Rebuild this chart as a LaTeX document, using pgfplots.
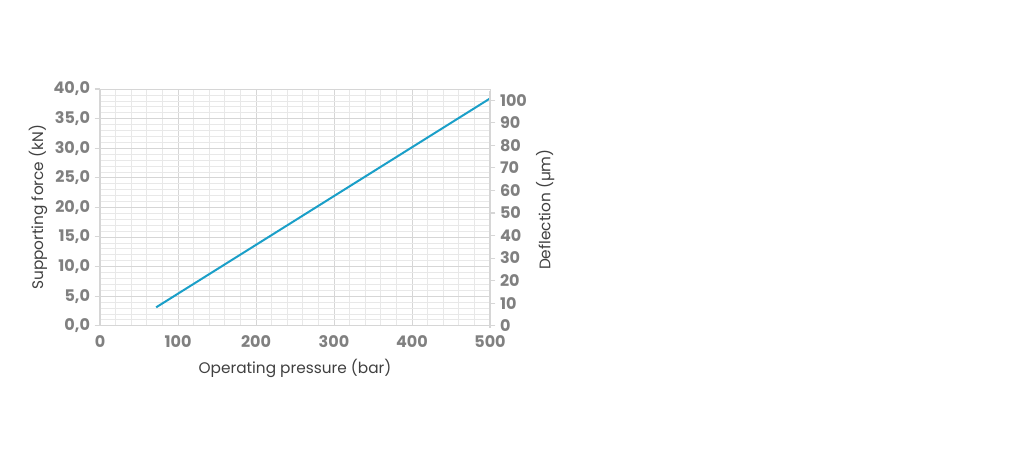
\documentclass[border=0pt]{standalone}
\usepackage{pgfplots}
\pgfplotsset{compat=1.18}
\usepackage{fontspec}
\setmainfont{Poppins}
\definecolor{tickgray}{HTML}{808080}
\definecolor{labgray}{HTML}{404040}
\definecolor{gridmaj}{HTML}{D6D6D6}
\definecolor{gridmin}{HTML}{E8E8E8}
\definecolor{linecol}{HTML}{1A9FC8}
\begin{document}
\begin{tikzpicture}[x=1pt,y=1pt]
\path[use as bounding box] (0,0) rectangle (768,342.75);
\begin{axis}[
  at={(75pt,98.5pt)}, anchor=origin,
  scale only axis, width=292.5pt, height=177.5pt,
  xmin=0, xmax=500, ymin=0, ymax=40,
  xtick={0,100,...,500}, ytick={0,5,...,40},
  minor x tick num=4, minor y tick num=4,
  grid=both,
  major grid style={gridmaj, line width=0.6pt},
  minor grid style={gridmin, line width=0.5pt},
  axis line style={gridmaj, line width=0.8pt},
  axis x line*=bottom, axis y line*=left,
  tick style={gridmaj, line width=0.8pt},
  major tick length=4pt, minor tick length=0pt,
  tick align=outside,
  xtick style={draw=none},
  ticklabel style={font=\fontsize{12}{14}\selectfont\bfseries, text=tickgray},
  /pgf/number format/assume math mode=true,
  yticklabel style={/pgf/number format/.cd, fixed, fixed zerofill, precision=1, use comma},
  xticklabel style={/pgf/number format/.cd, fixed, precision=0},
  xlabel={Operating pressure (bar)},
  ylabel={Supporting force (kN)},
  label style={font=\fontsize{11.5}{14}\selectfont, text=labgray},
  xlabel style={yshift=-2pt},
  ylabel style={yshift=-2pt},
]
\addplot[linecol, line width=1.5pt] coordinates {(72,3.1) (500,38.4)};
\end{axis}
\begin{axis}[
  at={(75pt,98.5pt)}, anchor=origin,
  scale only axis, width=292.5pt, height=177.5pt,
  xmin=0, xmax=500, ymin=-1, ymax=104,
  axis y line*=right, axis x line=none,
  ytick={0,10,...,100},
  axis line style={gridmaj, line width=0.8pt},
  tick style={gridmaj, line width=0.8pt},
  major tick length=4pt, tick align=outside,
  ticklabel style={font=\fontsize{12}{14}\selectfont\bfseries, text=tickgray},
  /pgf/number format/assume math mode=true,
  ylabel={Deflection (µm)},
  ylabel style={font=\fontsize{11.5}{14}\selectfont, text=labgray},
]
\addplot[draw=none] coordinates {(0,0) (500,100)};
\end{axis}
\end{tikzpicture}
\end{document}
